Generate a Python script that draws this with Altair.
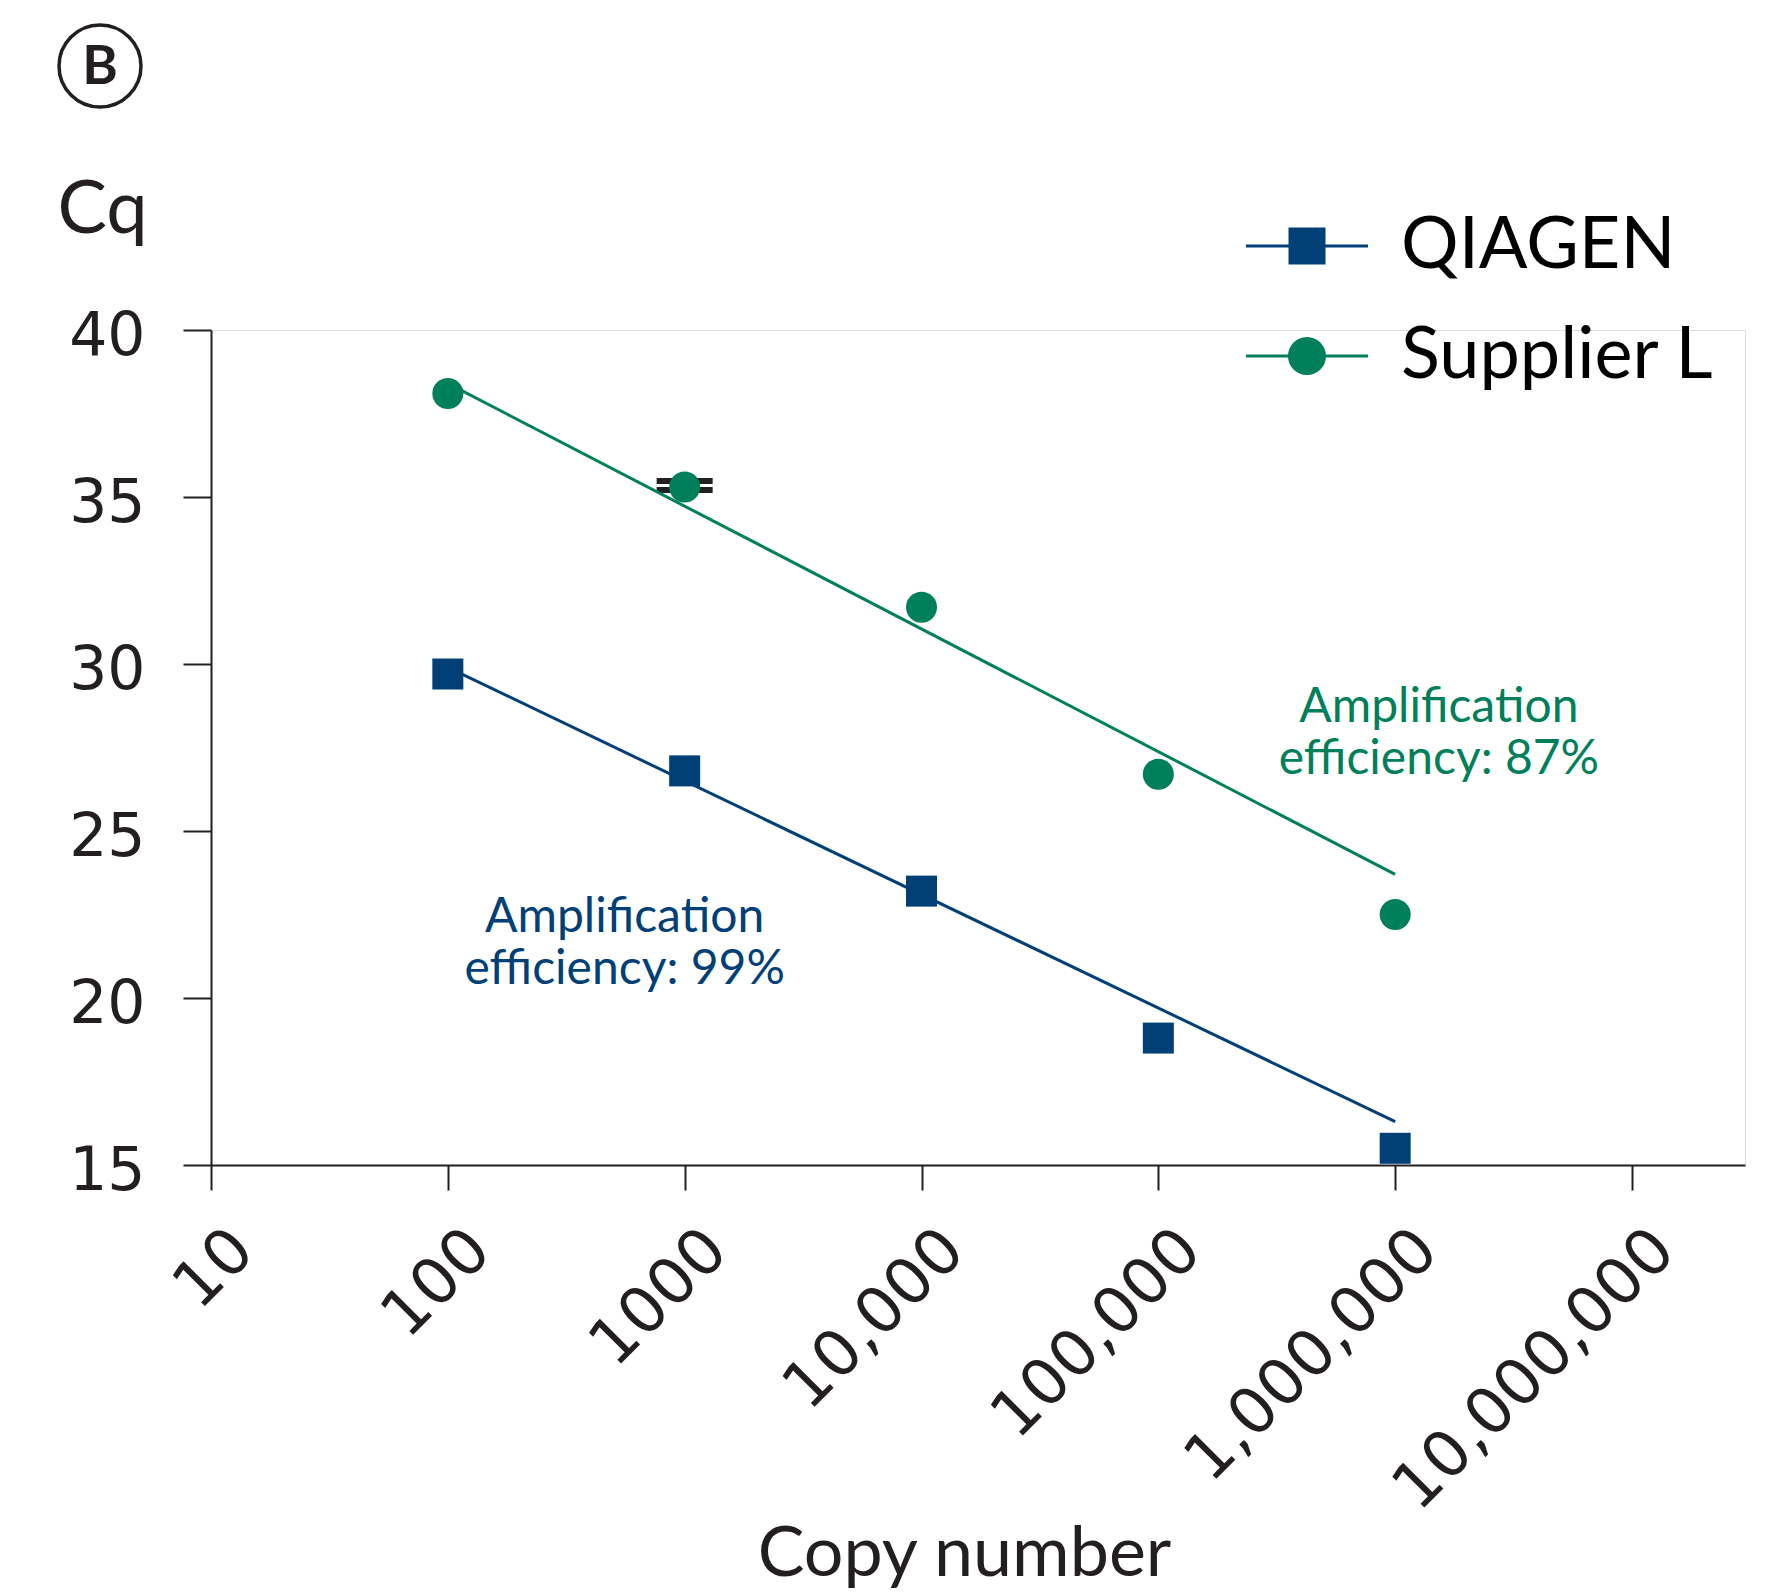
import altair as alt
import pandas as pd

# ---------------- data ----------------
series_names = ["QIAGEN", "Supplier L"]
series_colors = ["#004077", "#00805A"]

copies = [100, 1000, 10000, 100000, 1000000]
qiagen_cq = [29.7, 26.8, 23.2, 18.8, 15.5]
supplier_cq = [38.1, 35.3, 31.7, 26.7, 22.5]

fit_copies = [100, 1000000]
qiagen_fit = [29.9, 16.3]
supplier_fit = [38.4, 23.7]

err_copies = [1000, 1000]
supplier_err = [35.21, 35.48]

x_ticks = [10, 100, 1000, 10000, 100000, 1000000, 10000000]
y_ticks = [15, 20, 25, 30, 35, 40]

ann_copies = [558, 1530000]
ann_cq = [22.4, 28.67]
ann_text = ["Amplification\nefficiency: 99%", "Amplification\nefficiency: 87%"]

FONT = "Lato"
NUMFONT = "DejaVu Sans"
INK = "#231F20"

# ---------------- tables ----------------
pts = pd.DataFrame({
    "copies": copies * 2,
    "cq": qiagen_cq + supplier_cq,
    "series": [series_names[0]] * 5 + [series_names[1]] * 5,
    "col": [series_colors[0]] * 5 + [series_colors[1]] * 5,
    "shp": ["square"] * 5 + ["circle"] * 5,
})
fit = pd.DataFrame({
    "copies": fit_copies * 2,
    "cq": qiagen_fit + supplier_fit,
    "series": [series_names[0]] * 2 + [series_names[1]] * 2,
    "col": [series_colors[0]] * 2 + [series_colors[1]] * 2,
})
err = pd.DataFrame({"copies": err_copies, "cq": supplier_err})
ann = pd.DataFrame({"copies": ann_copies, "cq": ann_cq, "txt": ann_text,
                    "col": series_colors})
leg = pd.DataFrame({"copies": [copies[0], copies[0]],
                    "cq": [qiagen_cq[0], supplier_cq[0]],
                    "series": series_names})

xscale = alt.Scale(type="log", domain=[10, 30000000], nice=False)
yscale = alt.Scale(domain=[15, 40], nice=False, zero=False)

x_axis = alt.Axis(
    values=x_ticks,
    labelExpr="datum.value < 10000 ? format(datum.value, 'd') : format(datum.value, ',d')",
    labelAngle=-45, labelAlign="right", labelBaseline="middle",
    labelFont=NUMFONT, labelFontSize=64, labelColor=INK, labelLimit=0,
    labelPadding=50, labelOffset=32, labelFlush=False, labelOverlap=False,
    tickSize=25, tickColor=INK, tickWidth=2,
    domainColor=INK, domainWidth=2, grid=False,
    title="Copy number", titleFont=FONT, titleFontSize=70, titleFontWeight="normal",
    titleColor=INK, titleX=753, titleY=410, titleBaseline="alphabetic",
    titleAlign="center", titleAnchor="start",
)
y_axis = alt.Axis(
    values=y_ticks, labelFont=NUMFONT, labelFontSize=60, labelColor=INK,
    labelPadding=38, labelOffset=6, labelBaseline="middle",
    tickSize=28, tickColor=INK, tickWidth=2,
    domainColor=INK, domainWidth=2, grid=False,
    title="Cq", titleAngle=0, titleFont=FONT, titleFontSize=74,
    titleFontWeight="normal", titleColor=INK,
    titleX=-154, titleY=-98, titleAlign="left", titleBaseline="alphabetic",
    titleAnchor="start",
)

X = alt.X("copies:Q", scale=xscale, axis=x_axis)
Y = alt.Y("cq:Q", scale=yscale, axis=y_axis)
Xn = alt.X("copies:Q", scale=xscale)
Yn = alt.Y("cq:Q", scale=yscale)

errbars = alt.Chart(err).mark_tick(
    orient="horizontal", size=56, thickness=6, color=INK, opacity=1
).encode(x=X, y=Y)

lines = alt.Chart(fit).mark_line(strokeWidth=3).encode(
    x=Xn, y=Yn, detail="series:N",
    color=alt.Color("col:N", scale=None),
)

points = alt.Chart(pts).mark_point(filled=True, size=961, opacity=1).encode(
    x=Xn, y=Yn,
    fill=alt.Fill("col:N", scale=None),
    shape=alt.Shape("shp:N", scale=None),
)

texts = alt.Chart(ann).mark_text(
    font=FONT, fontSize=48, lineHeight=52, lineBreak="\n",
    align="center", baseline="middle",
).encode(x=Xn, y=Yn, text="txt:N", color=alt.Color("col:N", scale=None))

# legend symbols: line + marker
sq_path = ("M-3.3,-0.08H3.3V0.08H-3.3Z "
           "M-1,-1H1V1H-1Z")
ci_path = ("M-3.3,-0.08H3.3V0.08H-3.3Z "
           "M1.03,0A1.03,1.03 0 1,1 -1.03,0A1.03,1.03 0 1,1 1.03,0Z")

legend_props = dict(
    title=None, orient="none", legendX=1060, legendY=-120,
    padding=0, symbolSize=1369, symbolOpacity=1, labelLimit=0,
    labelFont=FONT, labelFontSize=72, labelColor="#000000",
    labelOffset=58, rowPadding=38, symbolStrokeWidth=0,
)

legend_layer = alt.Chart(leg).mark_point(filled=True, opacity=0).encode(
    x=Xn, y=Yn,
    color=alt.Color("series:N",
                    scale=alt.Scale(domain=series_names, range=series_colors),
                    legend=alt.Legend(**legend_props)),
    shape=alt.Shape("series:N",
                    scale=alt.Scale(domain=series_names, range=[sq_path, ci_path]),
                    legend=alt.Legend(**legend_props)),
)

# panel badge "B"
badge_df = pd.DataFrame({"lbl": ["B"]})
badge_circle = alt.Chart(badge_df).mark_point(
    shape="circle", size=6724, filled=False, strokeWidth=3.5, color=INK, opacity=1
).encode(x=alt.value(-111), y=alt.value(-264))
badge_text = alt.Chart(badge_df).mark_text(
    font=FONT, fontSize=54, fontWeight="bold", color=INK,
    align="center", baseline="middle",
).encode(x=alt.value(-111), y=alt.value(-262), text="lbl:N")

chart = alt.layer(
    errbars, lines, points, texts, legend_layer, badge_circle, badge_text
).properties(
    width=1534, height=835,
    autosize=alt.AutoSizeParams(type="none"),
    padding={"left": 203, "top": 322, "right": 16, "bottom": 428},
).configure_view(
    stroke="transparent", strokeWidth=0
).configure_axis(grid=False).configure(background="white")

chart.save("out.html", embed_options={"renderer": "svg", "actions": False})
